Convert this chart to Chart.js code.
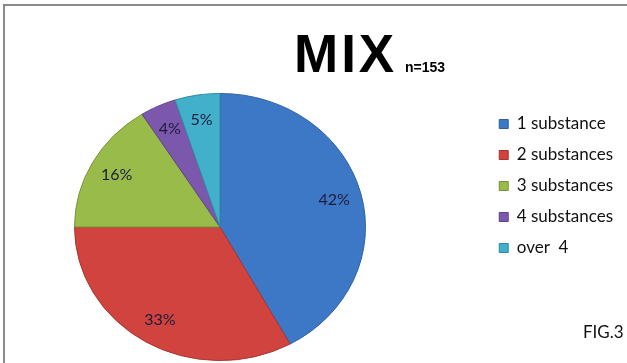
<!DOCTYPE html>
<html>
<head>
<meta charset="utf-8">
<script src="https://cdn.jsdelivr.net/npm/chart.js@4.4.1/dist/chart.umd.min.js"></script>
<style>
html,body{margin:0;padding:0;background:#fff;}
#wrap{position:relative;width:627px;height:363px;}
</style>
</head>
<body>
<div id="wrap"><canvas id="c" width="627" height="363"></canvas></div>
<script>
const categories = ["1 substance", "2 substances", "3 substances", "4 substances", "over  4"];
const values = [42, 33, 16, 4, 5];
const percentLabels = ["42%", "33%", "16%", "4%", "5%"];
const titleText = "MIX";
const subtitleText = "n=153";
const figText = "FIG.3";
const colors = ["#3d78c6", "#d0433e", "#98bb4a", "#7c58ad", "#42afcb"];
const borders = ["#2d5f9e", "#a8332f", "#76933a", "#5f438a", "#2f8ba3"];

const Y_SCALE = 0.918;   // slight tilt of the pie
const TARGET_CX = 220;
const TARGET_CY = 227;

function ellipseTransform(ctx, arc) {
  ctx.translate(TARGET_CX, TARGET_CY);
  ctx.scale(1, Y_SCALE);
  ctx.translate(-arc.x, -arc.y);
}

const tiltPlugin = {
  id: 'tilt',
  beforeDatasetsDraw(chart) {
    const arc = chart.getDatasetMeta(0).data[0];
    const ctx = chart.ctx;
    ctx.save();
    ellipseTransform(ctx, arc);
  },
  afterDatasetsDraw(chart) {
    chart.ctx.restore();
  }
};

const decorPlugin = {
  id: 'decor',
  beforeDraw(chart) {
    const ctx = chart.ctx;
    ctx.save();
    ctx.fillStyle = '#fff';
    ctx.fillRect(0, 0, chart.width, chart.height);
    ctx.strokeStyle = '#8a8a8a';
    ctx.lineWidth = 2;
    ctx.beginPath();
    ctx.moveTo(4, 363);
    ctx.lineTo(4, 5);
    ctx.lineTo(627, 5);
    ctx.stroke();
    ctx.restore();
  },
  afterDraw(chart) {
    const ctx = chart.ctx;
    ctx.save();
    // title
    ctx.fillStyle = '#000';
    ctx.textBaseline = 'alphabetic';
    ctx.textAlign = 'left';
    ctx.font = 'bold 53px "Liberation Sans", Arial, sans-serif';
    ctx.letterSpacing = '3px';
    ctx.fillText(titleText, 294, 72);
    ctx.letterSpacing = '0px';
    ctx.font = 'bold 14px "Liberation Sans", Arial, sans-serif';
    ctx.fillText(subtitleText, 405, 72);
    ctx.font = '17px "Lato", "Liberation Sans", sans-serif';
    ctx.fillStyle = '#111';
    ctx.fillText(figText, 583, 338);
    // percent labels
    const meta = chart.getDatasetMeta(0);
    ctx.font = '16px "Lato", "Liberation Sans", sans-serif';
    ctx.fillStyle = '#1c1c3a';
    ctx.textAlign = 'center';
    ctx.textBaseline = 'middle';
    meta.data.forEach((arc, i) => {
      const mid = (arc.startAngle + arc.endAngle) / 2;
      const r = arc.outerRadius * 0.81;
      const x = TARGET_CX + Math.cos(mid) * r;
      const y = TARGET_CY + Math.sin(mid) * r * Y_SCALE;
      ctx.fillText(percentLabels[i], x, y);
    });
    ctx.restore();
  }
};

new Chart(document.getElementById('c'), {
  type: 'pie',
  data: {
    labels: categories,
    datasets: [{
      data: values,
      backgroundColor: colors,
      borderColor: borders,
      borderWidth: 1
    }]
  },
  options: {
    responsive: false,
    animation: false,
    events: [],
    layout: { padding: { left: 20, right: 4, top: 40, bottom: 31 } },
    plugins: {
      title: { display: false },
      tooltip: { enabled: false },
      legend: {
        display: true,
        position: 'right',
        align: 'center',
        labels: {
          boxWidth: 9,
          boxHeight: 9,
          padding: 14,
          color: '#111',
          font: { family: 'Lato, "Liberation Sans", sans-serif', size: 17 }
        }
      }
    }
  },
  plugins: [decorPlugin, tiltPlugin]
});
</script>
</body>
</html>
